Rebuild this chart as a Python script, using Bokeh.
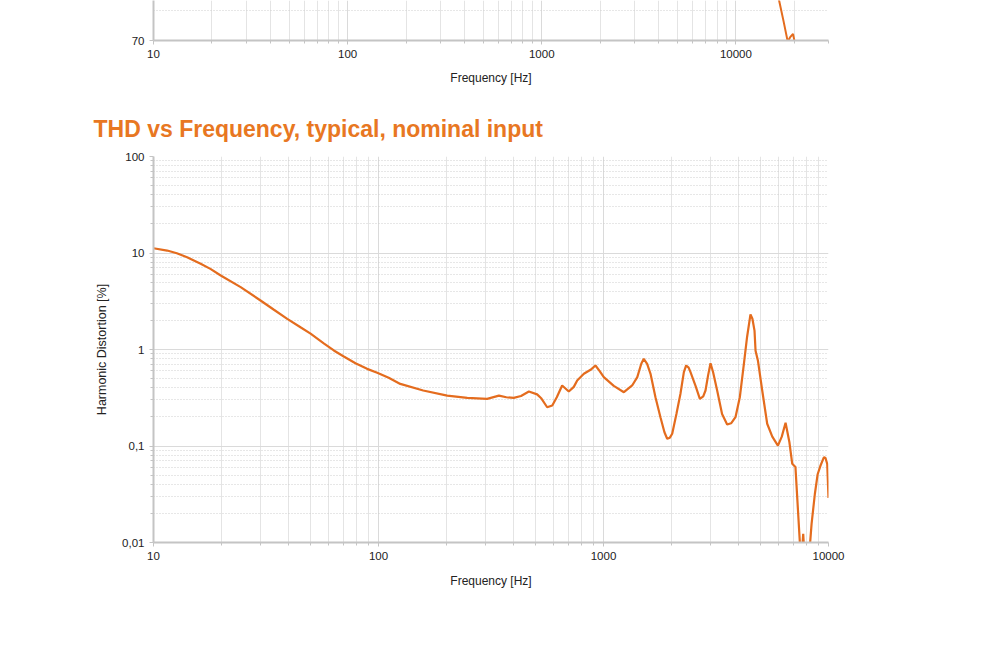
from bokeh.plotting import figure
from bokeh.models import FixedTicker, Range1d
from bokeh.layouts import column
from bokeh.embed import file_html
from bokeh.resources import INLINE

# ---- data: top (cut-off) chart ----
top_freq = [15000, 16700, 17600, 18500, 19000, 19700, 20150, 21000]
top_level = [80.0, 76.6, 73.2, 69.8, 70.5, 71.1, 69.5, 65.0]

# ---- data: THD vs frequency ----
thd_freq = [10, 11.5, 12.7, 14.1, 16.2, 17.9, 19.9, 24.4, 29.9, 34.3, 39.3, 45, 49.9,
            57.1, 63.3, 70.1, 79, 89, 98.7, 111, 125, 158,
            202, 248, 304, 343, 370, 399, 430, 466, 507, 530, 562, 592, 620, 655, 701,
            738, 764, 818, 876, 921, 960, 1003, 1111, 1232, 1341, 1413, 1472, 1510,
            1563, 1618, 1702, 1791, 1866, 1919, 1972, 2020, 2109, 2198, 2276, 2330,
            2390, 2436, 2565, 2681, 2775, 2840, 2915, 2990, 3070, 3200, 3365, 3545,
            3690, 3860, 4035, 4207, 4345, 4500, 4590, 4690, 4740, 4855, 5075, 5340,
            5625, 5960, 6200, 6445, 6700, 6900, 7130, 7450, 7550, 7650, 7720, 7800,
            7900, 8150, 8410, 8700, 8950, 9200, 9545, 9700, 9870, 10000]
thd_pct = [11.2, 10.6, 9.95, 9.03, 7.73, 6.85, 5.85, 4.43, 3.22, 2.58, 2.08, 1.70, 1.46,
           1.16, 0.977, 0.846, 0.72, 0.63, 0.574, 0.51, 0.44, 0.376,
           0.333, 0.315, 0.308, 0.333, 0.32, 0.315, 0.33, 0.367, 0.343, 0.31, 0.252, 0.263, 0.32, 0.424, 0.367,
           0.41, 0.478, 0.56, 0.616, 0.683, 0.6, 0.517, 0.42, 0.361, 0.424, 0.517, 0.711, 0.80,
           0.711, 0.56, 0.32, 0.199, 0.139, 0.119, 0.122, 0.134, 0.215, 0.348, 0.582, 0.683,
           0.65, 0.582, 0.42, 0.308, 0.326, 0.376, 0.536, 0.72, 0.582, 0.376, 0.215, 0.167,
           0.172, 0.199, 0.32, 0.711, 1.34, 2.31, 2.08, 1.57, 0.97, 0.77, 0.376, 0.17,
           0.125, 0.101, 0.125, 0.174, 0.11, 0.0654, 0.0607, 0.0105, 0.005, 0.009, 0.0123, 0.008,
           0.005, 0.006, 0.0156, 0.032, 0.051, 0.062, 0.0766, 0.075, 0.065, 0.029]

x_ticks = [10, 100, 1000, 10000]
x_tick_labels = ["10", "100", "1000", "10000"]
y_ticks = [0.01, 0.1, 1, 10, 100]
y_tick_labels = ["0,01", "0,1", "1", "10", "100"]

title_text = "THD vs Frequency, typical, nominal input"
x_label = "Frequency [Hz]"
y_label = "Harmonic Distortion [%]"

ORANGE = "#E46C1E"
TITLE_ORANGE = "#E87722"
AXIS_GRAY = "#c4c4c4"
GRID_GRAY = "#dadada"
MINOR_GRAY = "#e4e4e4"
TEXT = "#222222"
FONT = "Liberation Sans"
W = 984


def minor_decades(lo_exp, hi_exp, limit):
    out = []
    for e in range(lo_exp, hi_exp + 1):
        for m in range(2, 10):
            v = m * 10 ** e
            if v <= limit:
                out.append(v)
    return out


def style_axis(ax):
    ax.axis_line_color = AXIS_GRAY
    ax.axis_line_width = 2
    ax.major_tick_line_color = AXIS_GRAY
    ax.minor_tick_line_color = AXIS_GRAY
    ax.major_tick_out = 4
    ax.major_tick_in = 0
    ax.minor_tick_out = 3
    ax.minor_tick_in = 0
    ax.major_label_text_font = FONT
    ax.major_label_text_font_size = "11.5px"
    ax.major_label_text_color = TEXT
    ax.major_label_standoff = 5
    ax.axis_label_text_font = FONT
    ax.axis_label_text_font_size = "12px"
    ax.axis_label_text_font_style = "normal"
    ax.axis_label_text_color = TEXT
    ax.axis_label_standoff = 10


# ---------- top, cut-off chart ----------
top = figure(width=W, height=98, x_axis_type="log",
             x_range=Range1d(10, 30000), y_range=Range1d(70, 76.6),
             output_backend="svg", toolbar_location=None,
             min_border_left=153, min_border_right=156,
             min_border_top=0, min_border_bottom=58)
top.outline_line_color = None
top.xaxis.ticker = FixedTicker(ticks=x_ticks, minor_ticks=minor_decades(1, 4, 30000))
top.xaxis.major_label_overrides = dict(zip(x_ticks, x_tick_labels))
top.yaxis.ticker = FixedTicker(ticks=[70, 80], minor_ticks=[75])
top.xaxis.axis_label = x_label
for ax in (top.xaxis[0], top.yaxis[0]):
    style_axis(ax)
top.yaxis.minor_tick_line_color = None
top.xgrid.grid_line_color = GRID_GRAY
top.xgrid.minor_grid_line_color = MINOR_GRAY
top.ygrid.grid_line_color = GRID_GRAY
top.ygrid.minor_grid_line_color = "#cfcfcf"
top.ygrid.minor_grid_line_dash = "1 2"
top.line(top_freq, top_level, line_color=ORANGE, line_width=2)

# ---------- main chart ----------
p = figure(width=W, height=522, x_axis_type="log", y_axis_type="log",
           x_range=Range1d(10, 10000), y_range=Range1d(0.01, 100),
           output_backend="svg", toolbar_location=None,
           min_border_left=153, min_border_right=156,
           min_border_top=58, min_border_bottom=78)
p.outline_line_color = None
p.title.text = title_text
p.title.align = "left"
p.title.offset = -60
p.title.text_font = FONT
p.title.text_font_size = "23px"
p.title.text_font_style = "bold"
p.title.text_color = TITLE_ORANGE
p.title.standoff = 29

p.xaxis.ticker = FixedTicker(ticks=x_ticks, minor_ticks=minor_decades(1, 3, 10000))
p.xaxis.major_label_overrides = dict(zip(x_ticks, x_tick_labels))
p.yaxis.ticker = FixedTicker(ticks=y_ticks, minor_ticks=minor_decades(-2, 1, 100))
p.yaxis.major_label_overrides = dict(zip(y_ticks, y_tick_labels))
p.xaxis.axis_label = x_label
p.yaxis.axis_label = y_label
for ax in (p.xaxis[0], p.yaxis[0]):
    style_axis(ax)
p.xaxis.axis_label_standoff = 11
p.yaxis.axis_label_standoff = 10
p.yaxis.axis_label_text_font_size = "12.5px"

p.xgrid.grid_line_color = GRID_GRAY
p.xgrid.minor_grid_line_color = MINOR_GRAY
p.ygrid.grid_line_color = GRID_GRAY
p.ygrid.minor_grid_line_color = "#cfcfcf"
p.ygrid.minor_grid_line_dash = "1 2"

p.line(thd_freq, thd_pct, line_color=ORANGE, line_width=2.2)

layout = column(top, p, spacing=0)
open("out.html", "w").write(file_html(layout, INLINE))
